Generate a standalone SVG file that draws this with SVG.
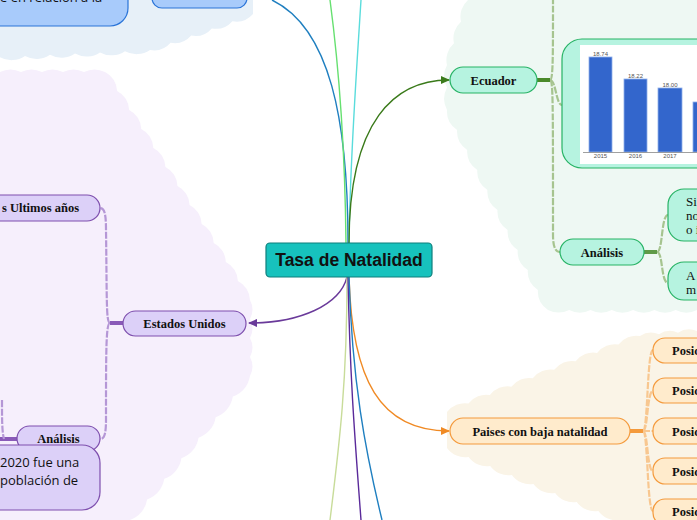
<svg xmlns="http://www.w3.org/2000/svg" width="697" height="520" viewBox="0 0 697 520">
<defs>
<style>
.lbl{font-family:"Liberation Serif","Times New Roman",serif;font-weight:bold;font-size:12.5px;fill:#111;text-anchor:middle}
.ser{font-family:"Liberation Serif","Times New Roman",serif;font-size:13px;fill:#111}
.sans{font-family:"Open Sans","Noto Sans",sans-serif;font-size:13px;fill:#111}
.blue{fill:#a8cbfb;stroke:#2a74d8;stroke-width:1.2}
.pur{fill:#dcd0f8;stroke:#7e4fae;stroke-width:1.2}
.grn{fill:#b6f3e0;stroke:#27b365;stroke-width:1.2}
.org{fill:#ffebcc;stroke:#f49a3c;stroke-width:1.2}
.c{fill:none;stroke-width:1.4}
.dash{fill:none;stroke-width:2.2;stroke-dasharray:7 1.5}
.ct{font-family:"Liberation Sans",Arial,sans-serif;font-size:6px;fill:#555;text-anchor:middle}
</style>
<marker id="aG" markerWidth="9" markerHeight="8" refX="8" refY="4" orient="auto" markerUnits="userSpaceOnUse"><path d="M0,0 L9,4 L0,8 z" fill="#3a7a1a"/></marker>
<marker id="aO" markerWidth="9" markerHeight="8" refX="8" refY="4" orient="auto" markerUnits="userSpaceOnUse"><path d="M0,0 L9,4 L0,8 z" fill="#f08a24"/></marker>
<marker id="aP" markerWidth="9" markerHeight="8" refX="8" refY="4" orient="auto" markerUnits="userSpaceOnUse"><path d="M0,0 L9,4 L0,8 z" fill="#6a3a9a"/></marker>
</defs>
<rect width="697" height="520" fill="#ffffff"/>
<g id="regions">
<path fill="#e7f0f8" d="M0 0 H253 V14 a22 22 0 0 1 -20.6 7.2 a22 22 0 0 1 -20.6 7.2 a22 22 0 0 1 -20.6 7.2 a22 22 0 0 1 -20.6 7.2 a22 22 0 0 1 -20.6 7.2 a24 24 0 0 1 -25 1.2 a24 24 0 0 1 -25 1.2 a24 24 0 0 1 -25 1.2 a24 24 0 0 1 -25 1.2 a24 24 0 0 1 -25 1.2 a24 24 0 0 1 -25 1.2 Z"/>
<path fill="#f6effc" d="M0 72 a24 24 0 0 1 21 0 a24 24 0 0 1 21 0 a24 24 0 0 1 21 0 a24 24 0 0 1 21 0 a24 24 0 0 1 21 0 a22 22 0 0 1 12.08 19 a22 22 0 0 1 12.08 19 a22 22 0 0 1 12.08 19 a22 22 0 0 1 12.08 19 a22 22 0 0 1 12.08 19 a22 22 0 0 1 12.08 19 a22 22 0 0 1 12.08 19 a22 22 0 0 1 12.08 19 a22 22 0 0 1 12.08 19 a22 22 0 0 1 12.08 19 a22 22 0 0 1 12.08 19 a22 22 0 0 1 12.08 19 a20 20 0 0 1 0 19 a20 20 0 0 1 0 19 a20 20 0 0 1 0 19 a20 20 0 0 1 0 19 a26 26 0 0 1 -17.14 20.57 a26 26 0 0 1 -17.14 20.57 a26 26 0 0 1 -17.14 20.57 a26 26 0 0 1 -17.14 20.57 a26 26 0 0 1 -17.14 20.57 a26 26 0 0 1 -17.14 20.57 a26 26 0 0 1 -17.14 20.57 H0 Z"/>
<path fill="#eef8f3" d="M468 0 H697 V310 a24 24 0 0 1 -21.3 0 a24 24 0 0 1 -21.3 0 a24 24 0 0 1 -21.3 0 a24 24 0 0 1 -21.3 0 a24 24 0 0 1 -21.3 0 a24 24 0 0 1 -21.3 0 a24 24 0 0 1 -21.2 0 a22 22 0 0 1 -10.1 -20 a22 22 0 0 1 -10.1 -20 a22 22 0 0 1 -10.1 -20 a22 22 0 0 1 -10.1 -20 a22 22 0 0 1 -10.1 -20 a22 22 0 0 1 -10.1 -20 a22 22 0 0 1 -10.1 -20 a22 22 0 0 1 -10.1 -20 a22 22 0 0 1 -10.1 -20 a22 22 0 0 1 -10.1 -20 a24 24 0 0 1 0 -22.5 a24 24 0 0 1 0 -22.5 a22 22 0 0 1 7 -21.67 a22 22 0 0 1 7 -21.67 a22 22 0 0 1 7 -21.66 Z"/>
<path fill="#faf4e7" d="M447 412 a22 22 0 0 1 21.44 -8.44 a22 22 0 0 1 21.44 -8.44 a22 22 0 0 1 21.44 -8.44 a22 22 0 0 1 21.44 -8.44 a22 22 0 0 1 21.44 -8.44 a22 22 0 0 1 21.44 -8.44 a22 22 0 0 1 21.44 -8.44 a22 22 0 0 1 21.44 -8.44 a22 22 0 0 1 21.48 -8.48 a20 20 0 0 1 19 -1.67 a20 20 0 0 1 19 -1.67 a20 20 0 0 1 19 -1.66 V520 H620 a22 22 0 0 1 -21.625 -9 a22 22 0 0 1 -21.625 -9 a22 22 0 0 1 -21.625 -9 a22 22 0 0 1 -21.625 -9 a22 22 0 0 1 -21.625 -9 a22 22 0 0 1 -21.625 -9 a22 22 0 0 1 -21.625 -9 a22 22 0 0 1 -21.625 -9 Z"/>
</g>
<g id="connectors">
<path class="c" stroke="#1f7fc0" d="M272 0 C330 28 348 120 348 243"/>
<path class="c" stroke="#66e070" d="M330 0 C338 60 345 150 346 243"/>
<path class="c" stroke="#5adcdc" d="M361 0 C356 80 350 160 349 243"/>
<path class="c" stroke="#3a7a1a" marker-end="url(#aG)" d="M349 243 C349 120 395 80 449 80"/>
<path class="c" stroke="#6a3a9a" marker-end="url(#aP)" d="M347 277 C340 305 300 323 249 323"/>
<path class="c" stroke="#f08a24" marker-end="url(#aO)" d="M349 277 C352 380 380 431 449 431"/>
<path class="c" stroke="#c8dc9a" d="M347 277 C347 380 340 440 330 520"/>
<path class="c" stroke="#5a2a9a" d="M348 277 C350 380 355 440 361 520"/>
<path class="c" stroke="#1f7fc0" d="M349 277 C352 380 365 450 382 520"/>
<line x1="537" y1="80" x2="550" y2="80" stroke="#4a8a2a" stroke-width="4"/>
<path class="dash" stroke="#a6c48f" d="M550 80 C553 80 553 60 553 0"/>
<path class="dash" stroke="#a6c48f" d="M550 80 C556 80 556 105 562 105"/>
<path class="dash" stroke="#a6c48f" d="M550 80 C553 80 553 95 553 235 C553 248 556 252 560 252"/>
<line x1="644" y1="252" x2="657" y2="252" stroke="#5f9a48" stroke-width="4"/>
<path class="dash" stroke="#a6c48f" d="M657 252 C663 252 661 215 668 215"/>
<path class="dash" stroke="#a6c48f" d="M657 252 C663 252 661 283 668 283"/>
<line x1="123" y1="323" x2="110" y2="323" stroke="#8a5ab8" stroke-width="4"/>
<path class="dash" stroke="#b597d6" d="M110 323 C106 323 107 300 106 230 C106 212 104 208 100 208"/>
<path class="dash" stroke="#b597d6" d="M110 323 C106 323 106 350 106 420 C106 435 104 439 100 439"/>
<line x1="0" y1="439" x2="17" y2="439" stroke="#8a5ab8" stroke-width="4"/>
<path class="dash" stroke="#b597d6" d="M2 400 C2 420 2 432 4 439"/>
<line x1="630" y1="431" x2="643" y2="431" stroke="#f49a3c" stroke-width="4"/>
<path class="dash" stroke="#f8c790" d="M643 431 C648 431 647 350 653 350"/>
<path class="dash" stroke="#f8c790" d="M643 431 C648 431 647 391 653 391"/>
<path class="dash" stroke="#f8c790" d="M643 431 L653 431"/>
<path class="dash" stroke="#f8c790" d="M643 431 C648 431 647 471 653 471"/>
<path class="dash" stroke="#f8c790" d="M643 431 C648 431 647 511 653 511"/>
</g>
<g id="blue-box-1"><rect class="blue" x="-20" y="-30" width="148" height="56" rx="18"/><text class="sans" x="0" y="2">e en relación a la</text></g>
<g id="blue-box-2"><rect class="blue" x="152" y="-20" width="95" height="28" rx="10"/></g>
<g id="center"><rect x="266" y="243" width="166" height="34" rx="4" fill="#17c2bd" stroke="#0f7f7c" stroke-width="1.2"/><text x="349" y="266" text-anchor="middle" font-family="Liberation Sans, Arial, sans-serif" font-weight="bold" font-size="17.5" fill="#111">Tasa de Natalidad</text></g>
<g id="ecuador"><rect class="grn" x="450" y="67" width="87" height="26" rx="13"/><text class="lbl" x="493.5" y="84.5">Ecuador</text></g>
<g id="chart">
<rect class="grn" x="562" y="39" width="160" height="129" rx="20"/>
<rect x="580" y="45" width="130" height="119" fill="#ffffff"/>
<g fill="#3366cc" stroke="#8fb0ea" stroke-width="0.8">
<rect x="589" y="57" width="23" height="95"/>
<rect x="624" y="79" width="23" height="73"/>
<rect x="658" y="88" width="24" height="64"/>
<rect x="693" y="102" width="24" height="50"/>
</g>
<line x1="583" y1="152.5" x2="697" y2="152.5" stroke="#888" stroke-width="0.8"/>
<text class="ct" x="600.5" y="56">18.74</text>
<text class="ct" x="635.5" y="78">18.22</text>
<text class="ct" x="670" y="87">18.00</text>
<text class="ct" x="600.5" y="158">2015</text>
<text class="ct" x="635.5" y="158">2016</text>
<text class="ct" x="670" y="158">2017</text>
</g>
<g id="analisis-ec"><rect class="grn" x="560" y="239" width="84" height="26" rx="13"/><text class="lbl" x="602" y="256.5">Análisis</text></g>
<g id="ec-text-1"><rect class="grn" x="668" y="189" width="60" height="52" rx="16"/><text class="ser" x="686" y="206">Si</text><text class="ser" x="686" y="220">no</text><text class="ser" x="686" y="234">o i</text></g>
<g id="ec-text-2"><rect class="grn" x="668" y="262" width="60" height="38" rx="16"/><text class="ser" x="686" y="280">A</text><text class="ser" x="686" y="294">m</text></g>
<g id="paises"><rect class="org" x="450" y="418" width="180" height="26" rx="13"/><text class="lbl" x="540" y="435.5">Paises con baja natalidad</text></g>
<g id="posic-1"><rect class="org" x="653" y="338" width="80" height="25" rx="12"/><text class="lbl" x="672" y="355" style="text-anchor:start">Posic</text></g>
<g id="posic-2"><rect class="org" x="653" y="378" width="80" height="25" rx="12"/><text class="lbl" x="672" y="395" style="text-anchor:start">Posic</text></g>
<g id="posic-3"><rect class="org" x="653" y="418" width="80" height="26" rx="12"/><text class="lbl" x="672" y="435.5" style="text-anchor:start">Posic</text></g>
<g id="posic-4"><rect class="org" x="653" y="458" width="80" height="26" rx="12"/><text class="lbl" x="672" y="475.5" style="text-anchor:start">Posic</text></g>
<g id="posic-5"><rect class="org" x="653" y="499" width="80" height="26" rx="12"/><text class="lbl" x="672" y="516" style="text-anchor:start">Posic</text></g>
<g id="estados-unidos"><rect class="pur" x="123" y="311" width="123" height="25" rx="12.5"/><text class="lbl" x="184.5" y="328">Estados Unidos</text></g>
<g id="ultimos"><rect class="pur" x="-30" y="195" width="130" height="26" rx="13"/><text class="lbl" x="79" y="212" style="text-anchor:end">s Ultimos años</text></g>
<g id="analisis-us"><rect class="pur" x="17" y="426" width="83" height="25" rx="12.5"/><text class="lbl" x="58.5" y="443">Análisis</text></g>
<g id="us-text"><rect class="pur" x="-30" y="445" width="130" height="65" rx="18"/><text class="sans" x="0" y="467">2020 fue una</text><text class="sans" x="0" y="485">población de</text></g>
</svg>
